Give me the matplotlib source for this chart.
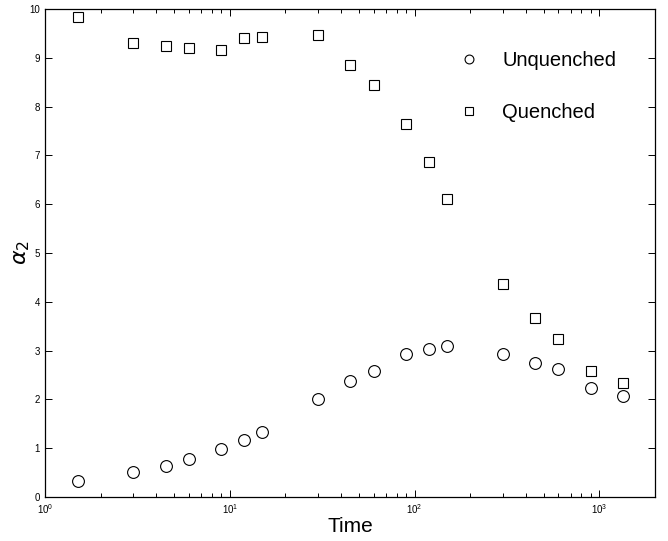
import matplotlib
matplotlib.use('Agg')
import matplotlib.pyplot as plt
from matplotlib.ticker import LogLocator, NullFormatter

# time points (shared by both series)
times = [1.5, 3, 4.5, 6, 9, 12, 15, 30, 45, 60, 90, 120, 150, 300, 450, 600, 900, 1350]

unquenched = [0.33, 0.51, 0.64, 0.78, 0.98, 1.17, 1.33, 2.01, 2.38, 2.58, 2.93, 3.04,
              3.09, 2.93, 2.75, 2.62, 2.23, 2.07]
quenched = [9.84, 9.30, 9.24, 9.20, 9.16, 9.41, 9.43, 9.47, 8.85, 8.44, 7.64, 6.86,
            6.11, 4.36, 3.67, 3.24, 2.58, 2.34]

yticks = list(range(0, 11))


def main():
    plt.rcParams['font.family'] = ['Liberation Sans', 'DejaVu Sans']
    plt.rcParams['mathtext.fontset'] = 'dejavusans'

    fig = plt.figure(figsize=(6.68, 5.41), dpi=100)
    ax = fig.add_axes([45 / 668, 1 - 497 / 541, 610 / 668, 488 / 541])

    ax.plot(times, unquenched, linestyle='none', marker='o', markersize=8.5,
            markerfacecolor='white', markeredgecolor='black', markeredgewidth=0.8,
            label='Unquenched')
    ax.plot(times, quenched, linestyle='none', marker='s', markersize=7,
            markerfacecolor='white', markeredgecolor='black', markeredgewidth=0.8,
            label='Quenched')

    ax.set_xscale('log')
    ax.set_xlim(1, 2000)
    ax.set_ylim(0, 10)
    ax.set_yticks(yticks)
    ax.xaxis.set_minor_locator(LogLocator(base=10, subs=range(2, 10)))
    ax.xaxis.set_minor_formatter(NullFormatter())

    ax.tick_params(which='both', direction='in', top=True, right=True,
                   labelsize=7, width=0.7)
    ax.tick_params(which='major', length=5)
    ax.tick_params(which='minor', length=3)
    for s in ax.spines.values():
        s.set_linewidth(0.9)

    ax.set_xlabel('Time', fontsize=15, labelpad=1)
    ax.set_ylabel(r'$\alpha_2$', fontsize=16)
    ax.yaxis.set_label_coords(-0.022, 0.5)

    ax.legend(loc='upper left', bbox_to_anchor=(0.641, 0.951), frameon=False,
              fontsize=14.5, markerscale=0.75, labelspacing=1.65,
              handletextpad=0.9, handlelength=1.5)

    fig.savefig('out.png', dpi=100)


if __name__ == '__main__':
    main()
